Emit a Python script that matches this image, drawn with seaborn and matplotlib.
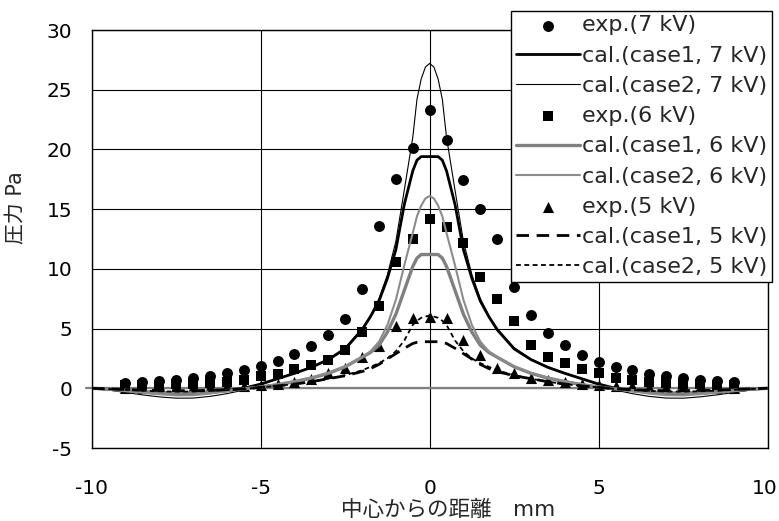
import matplotlib
matplotlib.use("Agg")
import matplotlib.pyplot as plt
import matplotlib.transforms as mtransforms
import seaborn as sns
import pandas as pd

# ---------------- data ----------------
X_EXP = [-9.0, -8.5, -8.0, -7.5, -7.0, -6.5, -6.0, -5.5, -5.0, -4.5, -4.0, -3.5, -3.0,
         -2.5, -2.0, -1.5, -1.0, -0.5, 0.0, 0.5, 1.0, 1.5, 2.0, 2.5, 3.0, 3.5, 4.0,
         4.5, 5.0, 5.5, 6.0, 6.5, 7.0, 7.5, 8.0, 8.5, 9.0]

EXP_7KV = [0.42, 0.53, 0.61, 0.69, 0.89, 1.03, 1.25, 1.5, 1.86, 2.3, 2.83, 3.58, 4.42,
           5.83, 8.33, 13.6, 17.5, 20.1, 23.3, 20.8, 17.4, 15.0, 12.5, 8.5, 6.1, 4.6, 3.6,
           2.8, 2.2, 1.8, 1.55, 1.2, 1.0, 0.9, 0.7, 0.57, 0.5]
EXP_6KV = [0.25, 0.3, 0.3, 0.35, 0.4, 0.45, 0.55, 0.7, 1.05, 1.2, 1.6, 1.95, 2.4,
           3.2, 4.7, 6.9, 10.6, 12.5, 14.2, 13.5, 12.2, 9.3, 7.5, 5.6, 3.6, 2.65, 2.15,
           1.65, 1.25, 0.85, 0.7, 0.55, 0.45, 0.4, 0.35, 0.3, 0.25]
EXP_5KV = [0.05, 0.05, 0.07, 0.08, 0.1, 0.12, 0.15, 0.2, 0.3, 0.4, 0.55, 0.75, 1.3,
           1.7, 2.6, 3.5, 5.2, 5.85, 6.0, 5.85, 4.05, 2.8, 1.7, 1.3, 0.85, 0.7, 0.55,
           0.4, 0.3, 0.2, 0.15, 0.12, 0.1, 0.08, 0.07, 0.05, 0.05]

X_CAL = [-10.0, -9.5, -9.0, -8.5, -8.0, -7.5, -7.0, -6.5, -6.0, -5.5, -5.0, -4.5, -4.0,
         -3.5, -3.0, -2.5, -2.0, -1.75, -1.5, -1.25, -1.0, -0.75, -0.5, -0.375, -0.25,
         -0.125, 0.0, 0.125, 0.25, 0.375, 0.5, 0.75, 1.0, 1.25, 1.5, 1.75, 2.0, 2.5,
         3.0, 3.5, 4.0, 4.5, 5.0, 5.5, 6.0, 6.5, 7.0, 7.5, 8.0, 8.5, 9.0, 9.5, 10.0]

CAL1_7KV = [0.0, -0.08, -0.2, -0.32, -0.42, -0.48, -0.45, -0.35, -0.2, 0.0, 0.35, 0.8, 1.25,
            1.75, 2.4, 3.3, 4.9, 6.0, 7.3, 9.2, 11.6, 15.4, 18.2, 19.1, 19.4,
            19.4, 19.4, 19.4, 19.4, 19.1, 18.2, 15.4, 11.6, 9.2, 7.3, 6.0, 4.9, 3.3,
            2.4, 1.75, 1.25, 0.8, 0.35, 0.0, -0.2, -0.35, -0.45, -0.48, -0.42, -0.32, -0.2, -0.08, 0.0]
CAL2_7KV = [0.0, -0.15, -0.35, -0.55, -0.72, -0.83, -0.82, -0.68, -0.45, -0.15, 0.3, 0.8, 1.3,
            1.8, 2.45, 3.4, 5.0, 6.1, 7.5, 9.5, 12.3, 16.6, 21.0, 24.2, 25.9,
            26.9, 27.2, 26.9, 25.9, 24.2, 21.0, 16.6, 12.3, 9.5, 7.5, 6.1, 5.0, 3.4,
            2.45, 1.8, 1.3, 0.8, 0.3, -0.15, -0.45, -0.68, -0.82, -0.83, -0.72, -0.55, -0.35, -0.15, 0.0]
CAL1_6KV = [0.0, -0.07, -0.17, -0.27, -0.35, -0.4, -0.38, -0.3, -0.2, -0.05, 0.1, 0.3, 0.55,
            0.85, 1.25, 1.8, 2.6, 3.0, 3.6, 4.7, 6.2, 8.2, 10.2, 10.9, 11.2,
            11.2, 11.2, 11.2, 11.2, 10.9, 10.2, 8.2, 6.2, 4.7, 3.6, 3.0, 2.6, 1.8,
            1.25, 0.85, 0.55, 0.3, 0.1, -0.05, -0.2, -0.3, -0.38, -0.4, -0.35, -0.27, -0.17, -0.07, 0.0]
CAL2_6KV = [0.0, -0.1, -0.25, -0.38, -0.5, -0.6, -0.58, -0.45, -0.25, -0.05, 0.15, 0.35, 0.6,
            0.9, 1.3, 1.85, 2.6, 3.1, 3.9, 5.3, 7.4, 10.3, 13.0, 14.4, 15.3,
            15.9, 16.1, 15.9, 15.3, 14.4, 13.0, 10.3, 7.4, 5.3, 3.9, 3.1, 2.6, 1.85,
            1.3, 0.9, 0.6, 0.35, 0.15, -0.05, -0.25, -0.45, -0.58, -0.6, -0.5, -0.38, -0.25, -0.1, 0.0]
CAL1_5KV = [0.0, -0.05, -0.1, -0.15, -0.18, -0.2, -0.2, -0.17, -0.12, -0.05, 0.08, 0.2, 0.35,
            0.55, 0.8, 1.05, 1.4, 1.65, 2.0, 2.45, 2.9, 3.35, 3.75, 3.85, 3.9,
            3.9, 3.9, 3.9, 3.9, 3.85, 3.75, 3.35, 2.9, 2.45, 2.0, 1.65, 1.4, 1.05,
            0.8, 0.55, 0.35, 0.2, 0.08, -0.05, -0.12, -0.17, -0.2, -0.2, -0.18, -0.15, -0.1, -0.05, 0.0]
CAL2_5KV = [0.0, -0.06, -0.13, -0.2, -0.25, -0.28, -0.27, -0.22, -0.15, -0.05, 0.08, 0.2, 0.35,
            0.55, 0.8, 1.1, 1.5, 1.8, 2.1, 2.5, 3.1, 4.0, 5.3, 5.65, 5.9,
            6.0, 6.1, 6.0, 5.9, 5.65, 5.3, 4.0, 3.1, 2.5, 2.1, 1.8, 1.5, 1.1,
            0.8, 0.55, 0.35, 0.2, 0.08, -0.05, -0.15, -0.22, -0.27, -0.28, -0.25, -0.2, -0.13, -0.06, 0.0]

LABELS = ["exp.(7 kV)", "cal.(case1, 7 kV)", "cal.(case2, 7 kV)",
          "exp.(6 kV)", "cal.(case1, 6 kV)", "cal.(case2, 6 kV)",
          "exp.(5 kV)", "cal.(case1, 5 kV)", "cal.(case2, 5 kV)"]
X_TICKS = [-10, -5, 0, 5, 10]
Y_TICKS = [-5, 0, 5, 10, 15, 20, 25, 30]
X_LABEL = "中心からの距離\u3000mm"
Y_LABEL = "圧力 Pa"

# ---------------- style ----------------
sns.set_style("white")
plt.rcParams["font.family"] = ["DejaVu Sans", "Noto Sans CJK JP"]
plt.rcParams["lines.scale_dashes"] = False
plt.rcParams["axes.unicode_minus"] = False

W, H = 779, 521
fig = plt.figure(figsize=(W / 100, H / 100), dpi=100)
L, R, T, B = 91.7, 767.6, 30.0, 448.0
ax = fig.add_axes([L / W, 1 - B / H, (R - L) / W, (B - T) / H])

exp_df = pd.DataFrame({"x": X_EXP, "7": EXP_7KV, "6": EXP_6KV, "5": EXP_5KV})
cal_df = pd.DataFrame({"x": X_CAL, "c1_7": CAL1_7KV, "c2_7": CAL2_7KV,
                       "c1_6": CAL1_6KV, "c2_6": CAL2_6KV,
                       "c1_5": CAL1_5KV, "c2_5": CAL2_5KV})

# gridlines
for xv in X_TICKS:
    ax.axvline(xv, color="black", lw=0.8, zorder=1)
for yv in Y_TICKS:
    ax.axhline(yv, color="black", lw=0.8, zorder=1)
ax.axhline(0, xmin=-0.008, xmax=1, color="#808080", lw=1.6, zorder=1.5, clip_on=False)

# experimental markers
marker_specs = [("7", "o", 62, LABELS[0]), ("6", "s", 56, LABELS[3]), ("5", "^", 64, LABELS[6])]
for col, mk, s, lab in marker_specs:
    sns.scatterplot(data=exp_df, x="x", y=col, marker=mk, s=s, color="black",
                    linewidth=0, ax=ax, label=lab, zorder=3)

# calculated curves
line_specs = [
    ("c1_7", "black", 2.0, None, LABELS[1]),
    ("c2_7", "black", 0.8, None, LABELS[2]),
    ("c1_6", "#808080", 2.4, None, LABELS[4]),
    ("c2_6", "#8c8c8c", 1.5, None, LABELS[5]),
    ("c1_5", "black", 2.0, (0, (9.0, 5.5)), LABELS[7]),
    ("c2_5", "black", 1.3, (0, (3.5, 2.5)), LABELS[8]),
]
for col, c, lw, ls, lab in line_specs:
    sns.lineplot(data=cal_df, x="x", y=col, color=c, lw=lw, ax=ax, label=lab,
                 estimator=None, sort=False, zorder=4)
    if ls is not None:
        ax.get_lines()[-1].set_linestyle(ls)

ax.set_xlim(-10, 10)
ax.set_ylim(-5, 30)
ax.set_xticks(X_TICKS)
ax.set_yticks(Y_TICKS)
ax.tick_params(axis="both", length=0, labelsize=14.5, colors="black")
ax.tick_params(axis="y", pad=14)
ax.tick_params(axis="x", pad=22)
for sp in ax.spines.values():
    sp.set_color("black")
    sp.set_linewidth(1.0)
    sp.set_visible(True)

# keep the right-most x tick label inside the canvas
last = ax.get_xticklabels()[-1]
last.set_transform(last.get_transform() +
                   mtransforms.ScaledTranslation(-3 / 100, 0, fig.dpi_scale_trans))

ax.set_xlabel(X_LABEL, fontsize=15.5)
ax.set_ylabel(Y_LABEL, fontsize=15)
ax.xaxis.set_label_coords((448 - L) / (R - L), -(500 - B) / (B - T))
ax.yaxis.set_label_coords((26 - L) / (R - L), (B - 208) / (B - T))

handles, labels = ax.get_legend_handles_labels()
hmap = dict(zip(labels, handles))
if ax.get_legend() is not None:
    ax.get_legend().remove()
leg = fig.legend([hmap[l] for l in LABELS], LABELS, loc="upper right",
                 bbox_to_anchor=(772 / W, 1 - 11 / H), fontsize=16,
                 frameon=True, fancybox=False, framealpha=1, edgecolor="black",
                 borderpad=0.2, labelspacing=0.46, handlelength=2.9,
                 handletextpad=0.1, borderaxespad=0.0, markerscale=1.0)
leg.get_frame().set_linewidth(1.0)
leg.set_zorder(10)

fig.savefig("out.png", dpi=100, facecolor="white")
